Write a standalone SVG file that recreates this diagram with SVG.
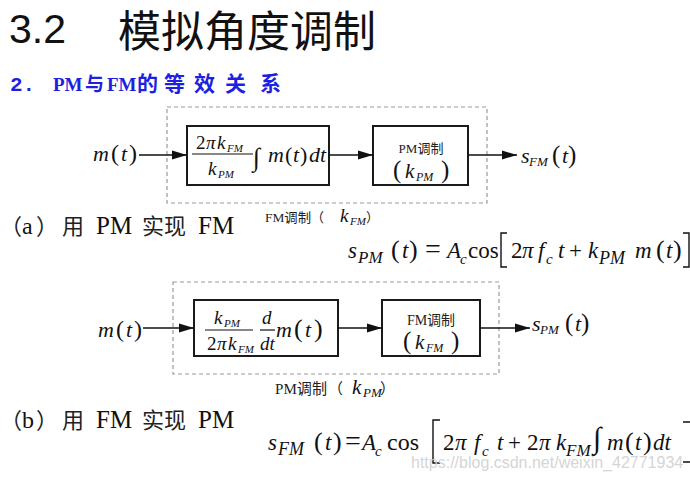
<svg xmlns="http://www.w3.org/2000/svg" width="690" height="481" viewBox="0 0 690 481">
<defs>
<style>
.m{font-family:'Liberation Serif','Times New Roman','Noto Sans CJK SC',serif;fill:#111}
.i{font-style:italic}
.cjk{font-family:'Liberation Serif','Noto Sans CJK SC',serif;fill:#222}
.zh{font-family:'Noto Sans CJK SC',sans-serif;fill:#222}
.box{fill:none;stroke:#1a1a1a;stroke-width:2}
.dash{fill:none;stroke:#9a9a9a;stroke-width:1.2;stroke-dasharray:4 3}
.line{fill:none;stroke:#111;stroke-width:1.5}
.br{fill:none;stroke:#111;stroke-width:1.4}
</style>
<marker id="arr" markerUnits="userSpaceOnUse" markerWidth="16" markerHeight="10" refX="15" refY="5" orient="auto">
<polygon points="0,0.5 15,5 0,9.5" fill="#111"/>
</marker>
</defs>
<rect width="690" height="481" fill="#fff"/>

<g id="title">
<text x="9" y="43" font-family="'Liberation Sans',Arial,sans-serif" font-size="41" fill="#111">3.2</text>
<text x="118" y="47" font-family="'Noto Sans CJK SC',sans-serif" font-size="43" fill="#111">模拟角度调制</text>
</g>
<g id="subtitle" fill="#1f1fe0">
<text x="10" y="91" font-family="'Liberation Mono',monospace" font-weight="bold" font-size="21">2.</text>
<text x="53" y="91" font-family="'Liberation Serif',serif" font-weight="bold" font-size="19">PM</text>
<text x="85" y="91" font-family="'Noto Sans CJK SC',sans-serif" font-weight="bold" font-size="19">与</text>
<text x="107" y="91" font-family="'Liberation Serif',serif" font-weight="bold" font-size="19">FM</text>
<text y="91" font-family="'Noto Sans CJK SC',sans-serif" font-weight="bold" font-size="21"><tspan x="137">的</tspan><tspan x="164">等</tspan><tspan x="194">效</tspan><tspan x="225">关</tspan><tspan x="260">系</tspan></text>
</g>

<!-- Diagram (a) -->
<g id="frame-a"><rect class="dash" x="167" y="107" width="320" height="96"/></g>
<g id="input-a" class="m">
<text x="93" y="161" font-size="22"><tspan class="i">m</tspan><tspan x="111" font-size="24">(</tspan><tspan x="121" class="i">t</tspan><tspan x="129" font-size="24">)</tspan></text>
</g>
<g id="block-a1" class="m">
<rect class="box" x="187" y="126" width="142" height="59"/>
<text y="149" font-size="19"><tspan x="196">2</tspan><tspan x="206" class="i">π</tspan><tspan x="217" class="i">k</tspan><tspan x="227" y="152" class="i" font-size="11">FM</tspan></text>
<line x1="192" y1="154" x2="253" y2="154" stroke="#111" stroke-width="1.2"/>
<text y="175" font-size="19"><tspan x="208" class="i">k</tspan><tspan x="218" y="178" class="i" font-size="11">PM</tspan></text>
<text x="253" y="166" font-size="26">∫</text>
<text y="162" font-size="22"><tspan x="268" class="i">m</tspan><tspan x="285">(</tspan><tspan x="293" class="i">t</tspan><tspan x="300">)</tspan><tspan x="309" class="i">dt</tspan></text>
</g>
<g id="block-a2" class="m">
<rect class="box" x="373" y="126" width="95" height="59"/>
<text x="421" y="153" font-size="13" text-anchor="middle" class="cjk">PM调制</text>
<text y="178" font-size="21"><tspan x="393" font-size="25">(</tspan><tspan x="405" class="i">k</tspan><tspan x="416" y="181" class="i" font-size="12">PM</tspan><tspan x="441" y="178" font-size="25">)</tspan></text>
</g>
<g id="output-a" class="m">
<text y="163" font-size="22"><tspan x="521" class="i">s</tspan><tspan x="529" y="166" class="i" font-size="13">FM</tspan><tspan x="552" y="163" font-size="25">(</tspan><tspan x="562" class="i">t</tspan><tspan x="568" font-size="25">)</tspan></text>
</g>
<g id="label-a" class="cjk">
<text x="265" y="222" font-size="13" textLength="46" lengthAdjust="spacingAndGlyphs">FM调制</text>
<text x="311" y="222" font-size="13">（</text>
<text x="340" y="222" font-size="19" class="m i">k</text>
<text x="350" y="225" font-size="11" class="m i">FM</text>
<text x="366" y="222" font-size="13">）</text>
</g>

<!-- Diagram (b) -->
<g id="frame-b"><rect class="dash" x="173" y="282" width="326" height="92"/></g>
<g id="input-b" class="m">
<text x="98" y="337" font-size="22"><tspan class="i">m</tspan><tspan x="116" font-size="24">(</tspan><tspan x="126" class="i">t</tspan><tspan x="134" font-size="24">)</tspan></text>
</g>
<g id="block-b1" class="m">
<rect class="box" x="194" y="300" width="144" height="56"/>
<text y="324" font-size="19"><tspan x="214" class="i">k</tspan><tspan x="224" y="327" class="i" font-size="11">PM</tspan></text>
<line x1="205" y1="330" x2="253" y2="330" stroke="#111" stroke-width="1.2"/>
<text y="350" font-size="19"><tspan x="207">2</tspan><tspan x="217" class="i">π</tspan><tspan x="228" class="i">k</tspan><tspan x="238" y="353" class="i" font-size="11">FM</tspan></text>
<text x="262" y="324" font-size="19" class="i">d</text>
<line x1="260" y1="330" x2="275" y2="330" stroke="#111" stroke-width="1.2"/>
<text x="260" y="350" font-size="19" class="i">dt</text>
<text y="337" font-size="22"><tspan x="276" class="i">m</tspan><tspan x="294" font-size="26">(</tspan><tspan x="305" class="i">t</tspan><tspan x="314" font-size="26">)</tspan></text>
</g>
<g id="block-b2" class="m">
<rect class="box" x="382" y="300" width="98" height="56"/>
<text x="431" y="325" font-size="14" text-anchor="middle" class="cjk">FM调制</text>
<text y="349" font-size="21"><tspan x="403" font-size="25">(</tspan><tspan x="415" class="i">k</tspan><tspan x="426" y="352" class="i" font-size="12">FM</tspan><tspan x="451" y="349" font-size="25">)</tspan></text>
</g>
<g id="output-b" class="m">
<text y="331" font-size="22"><tspan x="532" class="i">s</tspan><tspan x="540" y="334" class="i" font-size="13">PM</tspan><tspan x="565" y="331" font-size="25">(</tspan><tspan x="575" class="i">t</tspan><tspan x="581" font-size="25">)</tspan></text>
</g>
<g id="label-b" class="cjk">
<text x="275" y="394" font-size="15" textLength="52" lengthAdjust="spacingAndGlyphs">PM调制</text>
<text x="328" y="394" font-size="15">（</text>
<text x="352" y="394" font-size="21" class="m i">k</text>
<text x="363" y="397" font-size="13" class="m i">PM</text>
<text x="380" y="394" font-size="15">）</text>
</g>

<g id="connectors">
<line class="line" x1="139" y1="155" x2="187" y2="155" marker-end="url(#arr)"/>
<line class="line" x1="329" y1="155" x2="373" y2="155" marker-end="url(#arr)"/>
<line class="line" x1="468" y1="155" x2="517" y2="155" marker-end="url(#arr)"/>
<line class="line" x1="143" y1="328" x2="194" y2="328" marker-end="url(#arr)"/>
<line class="line" x1="338" y1="328" x2="382" y2="328" marker-end="url(#arr)"/>
<line class="line" x1="480" y1="328" x2="530" y2="328" marker-end="url(#arr)"/>
</g>

<!-- Captions -->
<g id="caption-a">
<text x="0" y="234" font-size="22" class="zh">（</text>
<text x="22" y="234" font-size="24" class="m">a</text>
<text x="36" y="234" font-size="22" class="zh">）</text>
<text x="62" y="234" font-size="22" class="zh">用</text>
<text x="96" y="234" font-size="25" class="m">PM</text>
<text x="142" y="234" font-size="22" class="zh">实现</text>
<text x="198" y="234" font-size="25" class="m">FM</text>
</g>
<g id="caption-b">
<text x="0" y="428" font-size="22" class="zh">（</text>
<text x="22" y="428" font-size="24" class="m">b</text>
<text x="36" y="428" font-size="22" class="zh">）</text>
<text x="62" y="428" font-size="22" class="zh">用</text>
<text x="96" y="428" font-size="25" class="m">FM</text>
<text x="142" y="428" font-size="22" class="zh">实现</text>
<text x="198" y="428" font-size="25" class="m">PM</text>
</g>

<!-- Formula (a) -->
<g id="formula-a" class="m">
<text y="258" font-size="23"><tspan x="348" class="i">s</tspan><tspan x="358" y="263" class="i" font-size="17">PM</tspan><tspan x="391" y="258" font-size="26">(</tspan><tspan x="402" class="i">t</tspan><tspan x="409" font-size="26">)</tspan><tspan x="425" font-size="28">=</tspan><tspan x="447" class="i">A</tspan><tspan x="460" y="264" class="i" font-size="15">c</tspan><tspan x="468" y="258">cos</tspan><tspan x="511">2</tspan><tspan x="522" class="i">π</tspan><tspan x="538" class="i">f</tspan><tspan x="546" y="264" class="i" font-size="15">c</tspan><tspan x="558" y="258" class="i">t</tspan><tspan x="569">+</tspan><tspan x="588" class="i">k</tspan><tspan x="599" y="264" class="i" font-size="18">PM</tspan><tspan x="635" y="258" class="i">m</tspan><tspan x="656" font-size="26">(</tspan><tspan x="666" class="i">t</tspan><tspan x="673" font-size="26">)</tspan></text>
<path class="br" d="M507,233 H501 V267 H507"/>
<path class="br" d="M683,233 H689 V267 H683"/>
</g>

<!-- Formula (b) -->
<g id="formula-b" class="m">
<text y="450" font-size="23"><tspan x="268" class="i">s</tspan><tspan x="278" y="455" class="i" font-size="18">FM</tspan><tspan x="314" y="450" font-size="26">(</tspan><tspan x="325" class="i">t</tspan><tspan x="333" font-size="26">)</tspan><tspan x="345" font-size="28">=</tspan><tspan x="362" class="i">A</tspan><tspan x="375" y="456" class="i" font-size="15">c</tspan><tspan x="387" y="450" font-size="24">cos</tspan><tspan x="443">2</tspan><tspan x="455" class="i">π</tspan><tspan x="474" class="i">f</tspan><tspan x="482" y="456" class="i" font-size="15">c</tspan><tspan x="497" y="450" class="i">t</tspan><tspan x="508">+</tspan><tspan x="527">2</tspan><tspan x="539" class="i">π</tspan><tspan x="556" class="i">k</tspan><tspan x="566" y="456" class="i" font-size="17">FM</tspan><tspan x="593" y="448" font-size="30">∫</tspan><tspan x="607" y="450" class="i">m</tspan><tspan x="625" font-size="26">(</tspan><tspan x="635" class="i">t</tspan><tspan x="643" font-size="26">)</tspan><tspan x="653" class="i">dt</tspan></text>
<path class="br" d="M440,420 H433 V463 H440"/>
<path class="br" d="M683,422 H690 M683,462 H690"/>
</g>

<g id="watermark">
<text x="411" y="468" font-family="'Liberation Sans',Arial,sans-serif" font-size="16" fill="#cfcfcf" fill-opacity="0.9">https://blog.csdn.net/weixin_42771934</text>
</g>
</svg>
